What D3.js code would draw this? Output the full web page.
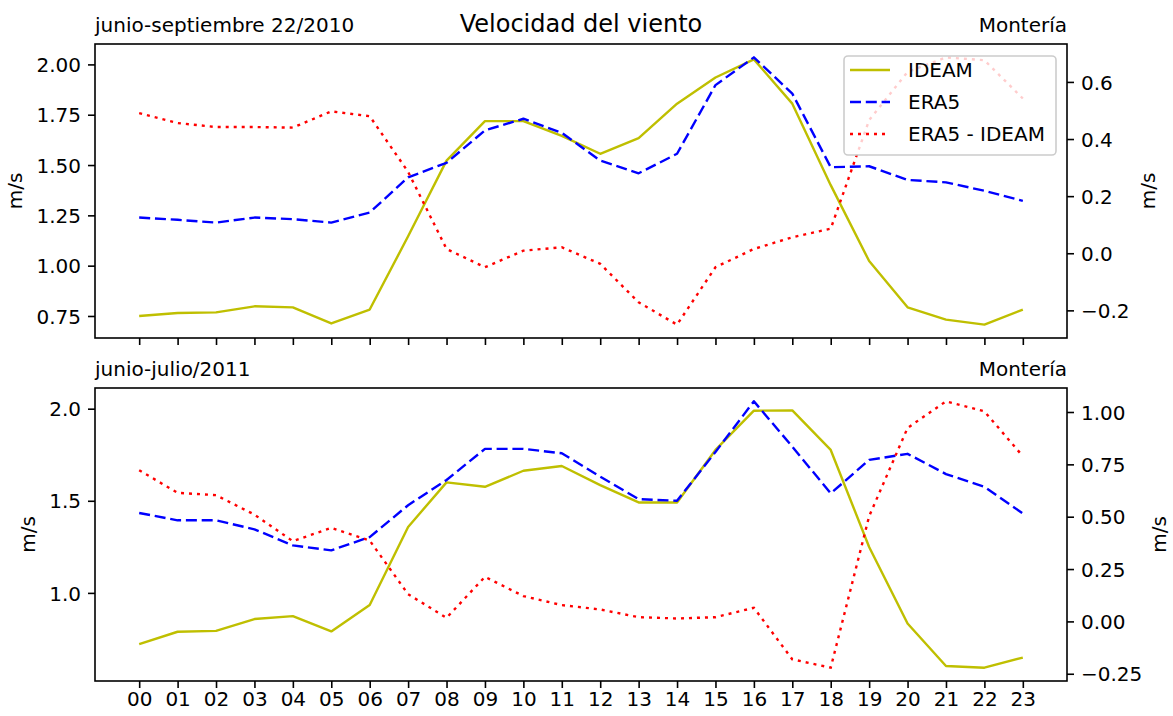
<!DOCTYPE html>
<html>
<head>
<meta charset="utf-8">
<script src="https://cdn.jsdelivr.net/npm/d3@7"></script>
<style>
  html, body { margin: 0; padding: 0; background: #fff; }
  svg { display: block; font-family: "DejaVu Sans", sans-serif; }
</style>
</head>
<body>
<svg id="chart" width="1173" height="716"></svg>
<script>
// Hourly wind speed at Montería: station (IDEAM) vs reanalysis (ERA5)
const hours = ["00","01","02","03","04","05","06","07","08","09","10","11",
               "12","13","14","15","16","17","18","19","20","21","22","23"];

// Panel 1: junio-septiembre 22/2010
const ideam2010 = [0.750, 0.765, 0.768, 0.798, 0.793, 0.713, 0.782, 1.146, 1.522, 1.718, 1.718, 1.645,
                   1.556, 1.634, 1.805, 1.935, 2.025, 1.805, 1.400, 1.023, 0.793, 0.732, 0.707, 0.782];
const era52010  = [1.239, 1.228, 1.214, 1.239, 1.231, 1.214, 1.264, 1.439, 1.511, 1.672, 1.730, 1.660,
                   1.522, 1.459, 1.556, 1.897, 2.035, 1.855, 1.489, 1.494, 1.426, 1.414, 1.372, 1.322];
const diff2010  = [0.491, 0.456, 0.442, 0.442, 0.440, 0.497, 0.480, 0.285, 0.015, -0.049, 0.009, 0.021,
                   -0.037, -0.172, -0.250, -0.049, 0.015, 0.056, 0.086, 0.466, 0.635, 0.686, 0.676, 0.542];

// Panel 2: junio-julio/2011
const ideam2011 = [0.722, 0.789, 0.794, 0.858, 0.874, 0.791, 0.934, 1.358, 1.600, 1.576, 1.663, 1.689,
                   1.585, 1.491, 1.491, 1.776, 1.989, 1.991, 1.776, 1.249, 0.834, 0.603, 0.594, 0.649];
const era52011  = [1.434, 1.394, 1.394, 1.345, 1.258, 1.231, 1.303, 1.476, 1.613, 1.782, 1.782, 1.758,
                   1.631, 1.509, 1.500, 1.765, 2.040, 1.794, 1.540, 1.722, 1.755, 1.645, 1.576, 1.431];
const diff2011  = [0.722, 0.614, 0.603, 0.510, 0.383, 0.447, 0.386, 0.130, 0.017, 0.213, 0.121, 0.078,
                   0.057, 0.020, 0.014, 0.020, 0.065, -0.181, -0.221, 0.502, 0.924, 1.051, 1.003, 0.789];

const leftTicks2010  = [0.75, 1.00, 1.25, 1.50, 1.75, 2.00];
const rightTicks2010 = [-0.2, 0.0, 0.2, 0.4, 0.6];
const leftTicks2011  = [1.0, 1.5, 2.0];
const rightTicks2011 = [-0.25, 0.00, 0.25, 0.50, 0.75, 1.00];

const seriesNames = ["IDEAM", "ERA5", "ERA5 - IDEAM"];

const styles = {
  ideam: { color: "#bfbf00", dash: null },
  era5:  { color: "#0000ff", dash: "11,4.8" },
  diff:  { color: "#ff0000", dash: "3,5" }
};

const W = 1173, H = 716;
const L = 95, R = 1067;
const FS = 20;

const svg = d3.select("#chart");
svg.append("rect").attr("width", W).attr("height", H).attr("fill", "#fff");

const x = d3.scaleLinear().domain([-1.15, 24.15]).range([L, R]);

// matplotlib-style auto limits: data extent plus 5% margins
function padded(arrs) {
  const all = arrs.flat();
  const lo = d3.min(all), hi = d3.max(all), m = (hi - lo) * 0.05;
  return [lo - m, hi + m];
}

function styleAxis(g) {
  g.select(".domain").remove();
  g.selectAll(".tick line").attr("stroke", "#000").attr("stroke-width", 1.6);
  g.selectAll(".tick text").attr("fill", "#000").style("font-size", FS + "px")
    .style("font-family", "DejaVu Sans, sans-serif");
}

function panel(cfg) {
  const { top, bottom, ideam, era5, diff, lTicks, lFmt, rTicks, rFmt,
          leftTitle, showX, legend, lLabelX, rLabelX } = cfg;
  const yL = d3.scaleLinear().domain(padded([ideam, era5])).range([bottom, top]);
  const yR = d3.scaleLinear().domain(padded([diff])).range([bottom, top]);
  const g = svg.append("g");

  // axes
  const gx = g.append("g").attr("transform", `translate(0,${bottom})`)
    .call(d3.axisBottom(x).tickValues(d3.range(hours.length))
      .tickFormat(i => showX ? hours[i] : "").tickSize(7).tickPadding(7));
  styleAxis(gx);
  gx.selectAll(".tick text").attr("dy", "0.88em").attr("y", 7);

  const gl = g.append("g").attr("transform", `translate(${L},0)`)
    .call(d3.axisLeft(yL).tickValues(lTicks).tickFormat(d3.format(lFmt)).tickSize(7).tickPadding(7));
  styleAxis(gl);
  gl.selectAll(".tick text").attr("dy", "0.36em");

  const gr = g.append("g").attr("transform", `translate(${R},0)`)
    .call(d3.axisRight(yR).tickValues(rTicks).tickFormat(d3.format(rFmt)).tickSize(7).tickPadding(7));
  styleAxis(gr);
  gr.selectAll(".tick text").attr("dy", "0.36em");

  const clipId = "clip" + Math.round(top);
  g.append("clipPath").attr("id", clipId).append("rect")
    .attr("x", L).attr("y", top).attr("width", R - L).attr("height", bottom - top);
  const plot = g.append("g").attr("clip-path", `url(#${clipId})`);

  const lineL = d3.line().x((d, i) => x(i)).y(d => yL(d));
  const lineR = d3.line().x((d, i) => x(i)).y(d => yR(d));

  plot.append("path").datum(ideam).attr("d", lineL).attr("fill", "none")
    .attr("stroke", styles.ideam.color).attr("stroke-width", 2.4).attr("stroke-linejoin", "round");
  plot.append("path").datum(era5).attr("d", lineL).attr("fill", "none")
    .attr("stroke", styles.era5.color).attr("stroke-width", 2.4)
    .attr("stroke-dasharray", styles.era5.dash).attr("stroke-linejoin", "round");

  if (legend) {
    const lg = g.append("g");
    const bx = 844, by = 56, bw = 212, bh = 99;
    lg.append("rect").attr("x", bx).attr("y", by).attr("width", bw).attr("height", bh)
      .attr("rx", 4).attr("fill", "#fff").attr("fill-opacity", 0.8)
      .attr("stroke", "#cccccc").attr("stroke-width", 1.6);
    const keys = ["ideam", "era5", "diff"];
    seriesNames.forEach((name, i) => {
      const cy = 70 + i * 32;
      const st = styles[keys[i]];
      lg.append("line").attr("x1", 850).attr("x2", 890).attr("y1", cy).attr("y2", cy)
        .attr("stroke", st.color).attr("stroke-width", 2.4)
        .attr("stroke-dasharray", st.dash);
      lg.append("text").attr("x", 908).attr("y", cy).attr("dy", "0.36em")
        .style("font-size", FS + "px").attr("fill", "#000").text(name);
    });
  }

  // twin axis drawn last, above the legend
  plot.append("path").datum(diff).attr("d", lineR).attr("fill", "none")
    .attr("stroke", styles.diff.color).attr("stroke-width", 2.4)
    .attr("stroke-dasharray", styles.diff.dash);

  // frame
  g.append("rect").attr("x", L).attr("y", top).attr("width", R - L).attr("height", bottom - top)
    .attr("fill", "none").attr("stroke", "#000").attr("stroke-width", 1.6);

  // titles
  g.append("text").attr("x", L).attr("y", top - 12).style("font-size", FS + "px")
    .attr("fill", "#000").text(leftTitle);
  g.append("text").attr("x", R).attr("y", top - 12).attr("text-anchor", "end")
    .style("font-size", FS + "px").attr("fill", "#000").text("Montería");

  const cy = (top + bottom) / 2;
  g.append("text").attr("transform", `translate(${lLabelX},${cy}) rotate(-90)`)
    .attr("text-anchor", "middle").attr("dy", "0.35em").style("font-size", FS + "px")
    .attr("fill", "#000").text("m/s");
  g.append("text").attr("transform", `translate(${rLabelX},${cy}) rotate(-90)`)
    .attr("text-anchor", "middle").attr("dy", "0.35em").style("font-size", FS + "px")
    .attr("fill", "#000").text("m/s");
}

panel({ top: 44, bottom: 338, ideam: ideam2010, era5: era52010, diff: diff2010,
        lTicks: leftTicks2010, lFmt: ".2f", rTicks: rightTicks2010, rFmt: ".1f",
        leftTitle: "junio-septiembre 22/2010", showX: false, legend: true,
        lLabelX: 15, rLabelX: 1148 });
panel({ top: 388, bottom: 681, ideam: ideam2011, era5: era52011, diff: diff2011,
        lTicks: leftTicks2011, lFmt: ".1f", rTicks: rightTicks2011, rFmt: ".2f",
        leftTitle: "junio-julio/2011", showX: true, legend: false,
        lLabelX: 28, rLabelX: 1159 });

svg.append("text").attr("x", (L + R) / 2).attr("y", 32).attr("text-anchor", "middle")
  .style("font-size", "24px").attr("fill", "#000").text("Velocidad del viento");
</script>
</body>
</html>
